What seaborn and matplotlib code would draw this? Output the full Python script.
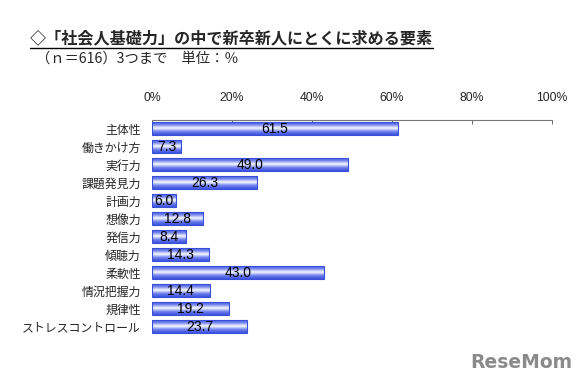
import numpy as np
import pandas as pd
import matplotlib
matplotlib.use("Agg")
import matplotlib.pyplot as plt
import seaborn as sns
from matplotlib.colors import LinearSegmentedColormap

categories = ["主体性", "働きかけ方", "実行力", "課題発見力", "計画力", "想像力",
              "発信力", "傾聴力", "柔軟性", "情況把握力", "規律性", "ストレスコントロール"]
values = [61.5, 7.3, 49.0, 26.3, 6.0, 12.8, 8.4, 14.3, 43.0, 14.4, 19.2, 23.7]
xticks = [0, 20, 40, 60, 80, 100]
xtick_labels = ["0%", "20%", "40%", "60%", "80%", "100%"]

sns.set_theme(style="white")
plt.rcParams['font.family'] = ['Noto Sans CJK JP', 'DejaVu Sans']

df = pd.DataFrame({"cat": categories, "val": values})

fig = plt.figure(figsize=(5.88, 3.88), dpi=100)
ax = fig.add_axes([152/588, 1-335.5/388, 400/588, 216/388])

sns.barplot(data=df, x="val", y="cat", orient="h", ax=ax, width=0.76,
            color="#5a6ee8", edgecolor="#3a4fd8", linewidth=0.8)

cmap = LinearSegmentedColormap.from_list("g", ["#3a52e0", "#6f80ee", "#ffffff", "#6f80ee", "#3a52e0"])
grad = np.linspace(0, 1, 64).reshape(-1, 1)
for p in ax.patches:
    x0, y0 = p.get_x(), p.get_y()
    w, h = p.get_width(), p.get_height()
    im = ax.imshow(grad, cmap=cmap, aspect="auto", extent=[x0, x0 + w, y0 + h, y0],
                   zorder=p.get_zorder() + 0.1, interpolation="bicubic")
    im.set_clip_path(p)
    p.set_facecolor("none")
    p.set_zorder(p.get_zorder() + 0.2)

for i, v in enumerate(values):
    ax.text(v / 2, i + 0.04, f"{v:.1f}", ha="center", va="center", fontsize=10,
            family=["Liberation Sans", "DejaVu Sans"], color="black", zorder=5)

ax.set_xlim(0, 100)
ax.set_ylim(len(categories) - 0.5, -0.5)
ax.xaxis.tick_top()
ax.set_xticks(xticks)
ax.set_xticklabels(xtick_labels, fontsize=8.8, family=["Liberation Sans", "DejaVu Sans"])
ax.tick_params(axis="x", direction="in", length=3, width=0.6, color="#555555", pad=11)
ax.tick_params(axis="y", length=0, pad=8, labelsize=8.6)
for s in ["right", "bottom", "left"]:
    ax.spines[s].set_visible(False)
ax.spines["top"].set_color("#777777")
ax.spines["top"].set_linewidth(0.8)
ax.set_xlabel("")
ax.set_ylabel("")

fig.text(30/588, 1-38/388, "◇「社会人基礎力」の中で新卒新人にとくに求める要素",
         fontsize=11.6, fontweight="bold", va="center", ha="left")
fig.add_artist(plt.Line2D([30/588, 433/588], [1-47.5/388, 1-47.5/388], color="black", lw=1))
fig.text(36/588, 1-59/388, "（ｎ＝616）3つまで　単位：％", fontsize=10.3, va="center", ha="left")
fig.text(572/588, 1-362/388, "ReseMom", fontsize=13.5, fontweight="bold", color="#8a8a8a",
         ha="right", va="center", family=["DejaVu Sans"])

fig.savefig("out.png", dpi=100)
